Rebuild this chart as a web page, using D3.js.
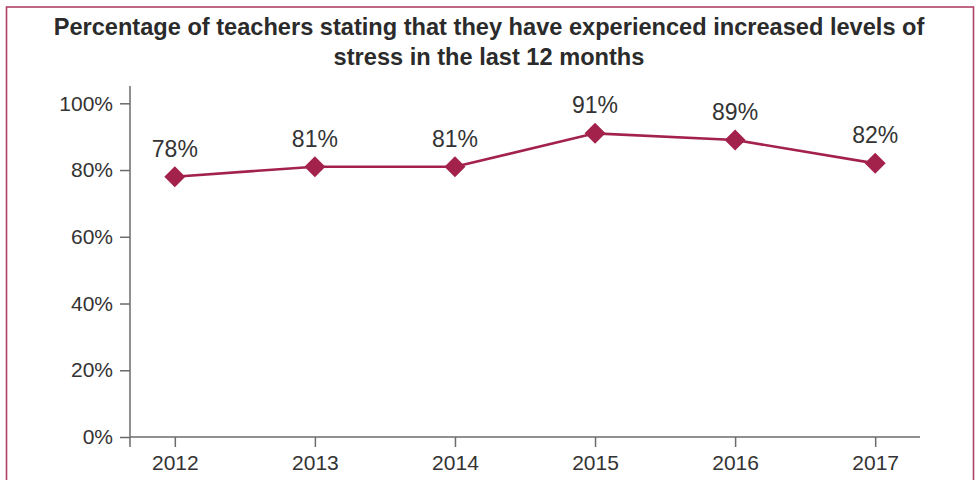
<!DOCTYPE html>
<html>
<head>
<meta charset="utf-8">
<script src="https://cdn.jsdelivr.net/npm/d3@7/dist/d3.min.js"></script>
<style>
  html, body { margin: 0; padding: 0; background: #fff; }
  svg { display: block; font-family: "Liberation Sans", Arial, Helvetica, sans-serif; }
</style>
</head>
<body>
<svg id="chart" width="979" height="480"></svg>
<script>
// Survey years and share of teachers reporting increased stress (%)
const years = ["2012", "2013", "2014", "2015", "2016", "2017"];
const stressPct = [78, 81, 81, 91, 89, 82];
const yTicks = [0, 20, 40, 60, 80, 100];
const titleLines = [
  "Percentage of teachers stating that they have experienced increased levels of",
  "stress in the last 12 months"
];

const W = 979, H = 480;
const accent = "#a3224c";
const axisColor = "#6b6b6b";
const textColor = "#333333";

const svg = d3.select("#chart");

// Frame around the figure
svg.append("rect")
  .attr("x", 6.5).attr("y", 7)
  .attr("width", 967).attr("height", 490)
  .attr("fill", "none")
  .attr("stroke", "#b0426a")
  .attr("stroke-width", 1.6);

// Title
svg.append("g").selectAll("text")
  .data(titleLines)
  .join("text")
  .attr("x", 489)
  .attr("y", (d, i) => 35 + i * 30)
  .attr("text-anchor", "middle")
  .attr("font-size", 23.6)
  .attr("font-weight", "bold")
  .attr("fill", "#2b2b2b")
  .text(d => d);

const plot = { left: 130, right: 920, top: 86, bottom: 437 };

const x = d3.scalePoint()
  .domain(years)
  .range([plot.left, plot.right])
  .padding(0.32);

const y = d3.scaleLinear()
  .domain([0, 100])
  .range([plot.bottom, 103.3]);

// Y axis
const yAxis = svg.append("g")
  .attr("transform", `translate(${plot.left},0)`)
  .call(d3.axisLeft(y).tickValues(yTicks).tickSize(10).tickPadding(7)
    .tickFormat(d => d + "%"));
yAxis.select(".domain").remove();
yAxis.append("line")
  .attr("x1", 0).attr("x2", 0)
  .attr("y1", plot.top).attr("y2", plot.bottom + 10)
  .attr("stroke", axisColor).attr("stroke-width", 1.5);
yAxis.selectAll(".tick line").attr("stroke", axisColor).attr("stroke-width", 1.5);
yAxis.selectAll(".tick text")
  .attr("font-size", 21)
  .attr("fill", textColor)
  .attr("font-family", "Liberation Sans, Arial, sans-serif");

// X axis
const xAxis = svg.append("g")
  .attr("transform", `translate(0,${plot.bottom})`)
  .call(d3.axisBottom(x).tickSize(10).tickPadding(8));
xAxis.select(".domain").remove();
xAxis.append("line")
  .attr("x1", plot.left).attr("x2", plot.right)
  .attr("y1", 0).attr("y2", 0)
  .attr("stroke", axisColor).attr("stroke-width", 1.5);
xAxis.selectAll(".tick line").attr("stroke", axisColor).attr("stroke-width", 1.5);
xAxis.selectAll(".tick text")
  .attr("font-size", 21)
  .attr("fill", textColor)
  .attr("font-family", "Liberation Sans, Arial, sans-serif");

const data = years.map((yr, i) => ({ year: yr, value: stressPct[i] }));

// Trend line
svg.append("path")
  .datum(data)
  .attr("fill", "none")
  .attr("stroke", accent)
  .attr("stroke-width", 2.6)
  .attr("d", d3.line().x(d => x(d.year)).y(d => y(d.value)));

// Diamond markers
svg.append("g").selectAll("path")
  .data(data)
  .join("path")
  .attr("transform", d => `translate(${x(d.year)},${y(d.value)})`)
  .attr("d", "M0,-10.5L10.5,0L0,10.5L-10.5,0Z")
  .attr("fill", accent);

// Value labels
svg.append("g").selectAll("text")
  .data(data)
  .join("text")
  .attr("x", d => x(d.year))
  .attr("y", d => y(d.value) - 20)
  .attr("text-anchor", "middle")
  .attr("font-size", 23)
  .attr("fill", textColor)
  .text(d => d.value + "%");
</script>
</body>
</html>
